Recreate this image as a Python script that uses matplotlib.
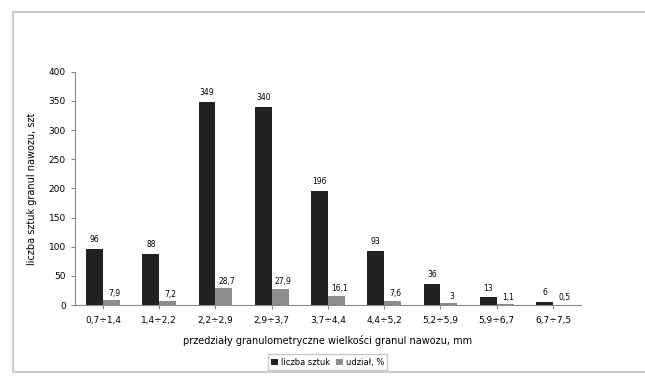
import numpy as np
import matplotlib.pyplot as plt
from matplotlib.patches import Rectangle

# Granule size classes, mm
classes = ["0,7÷1,4", "1,4÷2,2", "2,2÷2,9", "2,9÷3,7", "3,7÷4,4",
           "4,4÷5,2", "5,2÷5,9", "5,9÷6,7", "6,7÷7,5"]
# Number of granules in each class
count = [96, 88, 349, 340, 196, 93, 36, 13, 6]
# Share of each class, %
share = [7.9, 7.2, 28.7, 27.9, 16.1, 7.6, 3, 1.1, 0.5]

fig = plt.figure(figsize=(6.45, 3.78), dpi=100)
ax = fig.add_axes([0.116, 0.193, 0.785, 0.617])

x = np.arange(len(classes))
w = 0.3
b1 = ax.bar(x - w / 2, count, w, color="#222222", label="liczba sztuk")
b2 = ax.bar(x + w / 2, share, w, color="#8c8c8c", label="udział, %")

for xi, v in zip(x, count):
    ax.text(xi - w / 2, v + 8, str(v), ha="center", va="bottom", fontsize=5.5)
for xi, v in zip(x, share):
    ax.text(xi + w / 2 + 0.05, v + 4, str(v).replace(".", ","),
            ha="center", va="bottom", fontsize=5.5)

ax.set_xlim(-0.5, len(classes) - 0.5)
ax.set_ylim(0, 400)
ax.set_yticks(range(0, 401, 50))
ax.set_xticks(x)
ax.set_xticklabels(classes)
ax.tick_params(labelsize=6.5, length=3, color="#888888")
ax.tick_params(axis="x", pad=5)
ax.spines["top"].set_visible(False)
ax.spines["right"].set_visible(False)
ax.spines["left"].set_color("#888888")
ax.spines["bottom"].set_color("#888888")

ax.set_xlabel("przedziały granulometryczne wielkości granul nawozu, mm",
              fontsize=7, labelpad=7)
ax.set_ylabel("liczba sztuk granul nawozu, szt", fontsize=7, labelpad=8)

fig.legend(handles=[b1, b2], loc="center", bbox_to_anchor=(0.508, 0.042),
           ncol=2, fontsize=6, frameon=True, fancybox=False,
           edgecolor="#bbbbbb", handlelength=0.8, handleheight=0.8,
           columnspacing=0.8, handletextpad=0.3, borderpad=0.4)

# Outer frame around the chart
fig.patches.append(Rectangle((0.02, 0.016), 1.0, 0.952, transform=fig.transFigure,
                             fill=False, edgecolor="#cccccc", linewidth=1.5))

fig.savefig("out.png", dpi=100)
